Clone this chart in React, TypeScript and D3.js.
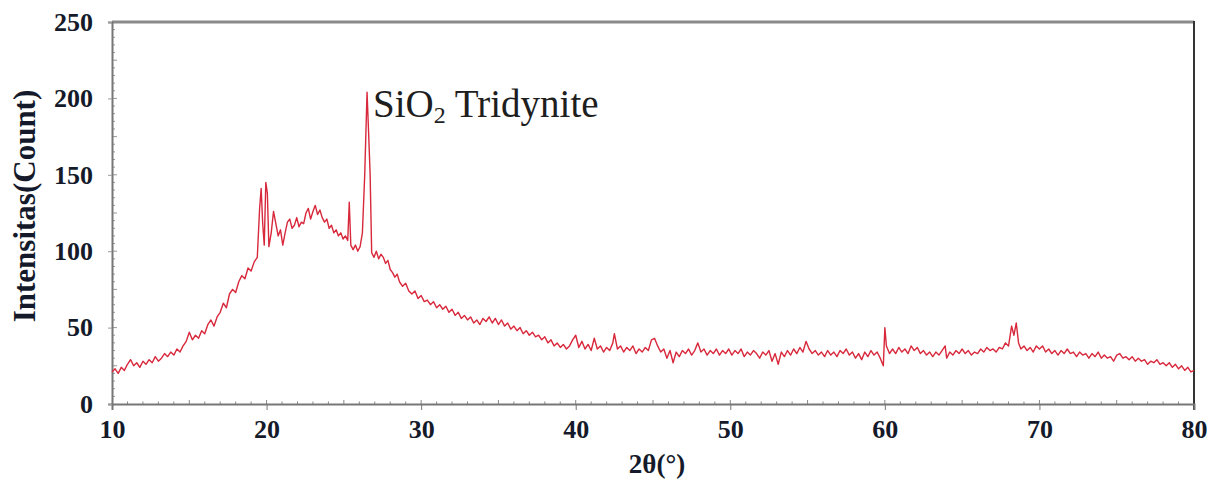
import React, { useRef, useEffect } from 'react';
import * as d3 from 'd3';

// XRD scan: [2theta, count]
const rampScan: [number, number][] = [
  [10.0, 21], [10.2, 23], [10.4, 20], [10.6, 24], [10.8, 22], [11.0, 26], [11.2, 29], [11.4, 25], [11.6, 27], [11.8, 24],
  [12.0, 28], [12.2, 26], [12.4, 29], [12.6, 27], [12.8, 31], [13.0, 28], [13.2, 30], [13.4, 33], [13.6, 31], [13.8, 34],
  [14.0, 32], [14.2, 36], [14.4, 34], [14.6, 38], [14.8, 41], [15.0, 47], [15.2, 42], [15.4, 45], [15.6, 43], [15.8, 48],
  [16.0, 46], [16.2, 52], [16.4, 55], [16.6, 51], [16.8, 57], [17.0, 60], [17.2, 66], [17.4, 63], [17.6, 72], [17.8, 75],
  [18.0, 73], [18.2, 80], [18.4, 84], [18.6, 82], [18.8, 89], [19.0, 87], [19.2, 93], [19.4, 96],
];

const humpScan: [number, number][] = [
  [19.55, 128], [19.65, 141], [19.75, 118], [19.85, 104], [19.95, 145], [20.05, 138], [20.15, 103], [20.3, 112],
  [20.45, 126], [20.6, 118], [20.75, 110], [20.9, 114], [21.05, 104], [21.2, 112], [21.35, 119], [21.5, 121],
  [21.65, 115], [21.8, 117], [21.95, 122], [22.1, 116], [22.25, 119], [22.4, 118], [22.55, 125], [22.7, 128],
  [22.85, 121], [23.0, 126], [23.15, 130], [23.3, 124], [23.45, 127], [23.6, 122], [23.75, 119], [23.9, 121],
  [24.05, 115], [24.2, 117], [24.35, 112], [24.5, 114], [24.65, 110], [24.8, 112], [24.95, 108], [25.1, 110],
  [25.25, 107], [25.35, 132], [25.45, 104], [25.6, 101], [25.75, 104], [25.9, 100], [26.05, 103], [26.2, 112],
  [26.35, 150], [26.5, 204], [26.6, 178], [26.7, 150], [26.8, 99], [26.95, 96], [27.1, 100], [27.25, 95],
  [27.4, 98], [27.55, 96], [27.7, 92], [27.85, 94], [28.0, 88], [28.15, 86], [28.3, 83], [28.45, 85], [28.6, 80],
];

const midScan: [number, number][] = [
  [28.8, 77], [29.0, 79], [29.2, 74], [29.4, 72], [29.6, 74], [29.8, 69], [30.0, 71], [30.2, 67], [30.4, 68], [30.6, 65],
  [30.8, 67], [31.0, 63], [31.2, 65], [31.4, 62], [31.6, 64], [31.8, 60], [32.0, 62], [32.2, 58], [32.4, 60], [32.6, 56],
  [32.8, 58], [33.0, 55], [33.2, 57], [33.4, 53], [33.6, 55], [33.8, 52], [34.0, 56], [34.2, 54], [34.4, 57], [34.6, 53],
  [34.8, 56], [35.0, 52], [35.2, 55], [35.4, 51], [35.6, 53], [35.8, 49], [36.0, 51], [36.2, 48], [36.4, 50], [36.6, 46],
  [36.8, 48], [37.0, 45], [37.2, 47], [37.4, 44], [37.6, 45], [37.8, 42], [38.0, 44], [38.2, 40], [38.4, 42], [38.6, 38],
  [38.8, 40], [39.0, 37], [39.2, 39], [39.4, 36], [39.6, 38], [39.8, 42], [40.0, 45], [40.2, 37],
];

const flatScan: [number, number][] = [
  [40.4, 41], [40.6, 36], [40.8, 39], [41.0, 35], [41.2, 43], [41.4, 36], [41.6, 38], [41.8, 34], [42.0, 37], [42.2, 35],
  [42.4, 40], [42.5, 46], [42.7, 36], [42.9, 38], [43.1, 34], [43.3, 37], [43.5, 35], [43.7, 38], [43.9, 33], [44.1, 36],
  [44.3, 34], [44.5, 37], [44.7, 35], [44.9, 42], [45.1, 43], [45.3, 38], [45.5, 34], [45.7, 36], [45.9, 30], [46.1, 35],
  [46.3, 27], [46.5, 34], [46.7, 31], [46.9, 35], [47.1, 33], [47.3, 36], [47.5, 32], [47.7, 35], [47.9, 40], [48.1, 34],
  [48.3, 36], [48.5, 32], [48.7, 35], [48.9, 33], [49.1, 36], [49.3, 32], [49.5, 35], [49.7, 33], [49.9, 36], [50.1, 32],
  [50.3, 35], [50.5, 33], [50.7, 36], [50.9, 31], [51.1, 34], [51.3, 32], [51.5, 35], [51.7, 33], [51.9, 30], [52.1, 34],
  [52.3, 32], [52.5, 35], [52.7, 28], [52.9, 33], [53.1, 26], [53.3, 34], [53.5, 31], [53.7, 35], [53.9, 32], [54.1, 36],
  [54.3, 33], [54.5, 37], [54.7, 34], [54.9, 41], [55.1, 36], [55.3, 33], [55.5, 35], [55.7, 32], [55.9, 34], [56.1, 31],
  [56.3, 35], [56.5, 32], [56.7, 34], [56.9, 31], [57.1, 35], [57.3, 33], [57.5, 36], [57.7, 32], [57.9, 34], [58.1, 30],
  [58.3, 33], [58.5, 29], [58.7, 34], [58.9, 31], [59.1, 35], [59.3, 32], [59.5, 34], [59.7, 30], [59.9, 25], [60.0, 50],
  [60.1, 38], [60.3, 33], [60.5, 36],
];

const tailScan: [number, number][] = [
  [60.7, 33], [60.9, 37], [61.1, 34], [61.3, 36], [61.5, 33], [61.7, 38], [61.9, 35], [62.1, 37], [62.3, 33], [62.5, 35],
  [62.7, 32], [62.9, 34], [63.1, 31], [63.3, 34], [63.5, 32], [63.7, 35], [63.9, 38], [64.0, 30], [64.2, 34], [64.4, 32],
  [64.6, 35], [64.8, 33], [65.0, 36], [65.2, 33], [65.4, 35], [65.6, 32], [65.8, 34], [66.0, 33], [66.2, 36], [66.4, 34],
  [66.6, 37], [66.8, 35], [67.0, 36], [67.2, 34], [67.4, 37], [67.6, 36], [67.8, 40], [68.0, 38], [68.2, 51], [68.35, 45],
  [68.5, 53], [68.65, 40], [68.8, 36], [69.0, 38], [69.2, 35], [69.4, 37], [69.6, 34], [69.8, 38], [70.0, 36], [70.2, 38],
  [70.4, 34], [70.6, 36], [70.8, 33], [71.0, 35], [71.2, 32], [71.4, 35], [71.6, 33], [71.8, 36], [72.0, 33], [72.2, 34],
  [72.4, 31], [72.6, 34], [72.8, 32], [73.0, 33], [73.2, 30], [73.4, 33], [73.6, 31], [73.8, 34], [74.0, 30], [74.2, 32],
  [74.4, 30], [74.6, 31], [74.8, 28], [75.0, 32], [75.2, 33], [75.4, 30], [75.6, 31], [75.8, 29], [76.0, 31], [76.2, 28],
  [76.4, 30], [76.6, 28], [76.8, 29], [77.0, 26], [77.2, 28], [77.4, 27], [77.6, 29], [77.8, 26], [78.0, 27], [78.2, 25],
  [78.4, 27], [78.6, 24], [78.8, 26], [79.0, 23], [79.2, 25], [79.4, 22], [79.6, 24], [79.8, 21], [80.0, 22],
];

const xTicks = [10, 20, 30, 40, 50, 60, 70, 80];
const yTicks = [0, 50, 100, 150, 200, 250];

function App() {
  const svgRef = useRef<SVGSVGElement>(null);

  useEffect(() => {
    const width = 1207;
    const height = 479;
    const margin = { top: 22, bottom: 75, left: 112, right: 13 };
    const font = '"Liberation Serif", "Times New Roman", serif';
    const scan = [...rampScan, ...humpScan, ...midScan, ...flatScan, ...tailScan];

    const svg = d3.select(svgRef.current)
      .attr('width', width)
      .attr('height', height)
      .attr('viewBox', [0, 0, width, height].join(' '));
    svg.selectAll('*').remove();

    const xScale = d3.scaleLinear().domain([10, 80]).range([margin.left, width - margin.right]);
    const yScale = d3.scaleLinear().domain([0, 250]).range([height - margin.bottom, margin.top]);
    const x0 = xScale(10), x1 = xScale(80), yb = yScale(0), yt = yScale(250);

    // minor ticks
    svg.append('g')
      .selectAll('line')
      .data(d3.range(11, 80, 1))
      .join('line')
      .attr('x1', d => xScale(d)).attr('x2', d => xScale(d))
      .attr('y1', yb).attr('y2', d => yb - (d % 5 === 0 ? 4 : 2.5))
      .attr('stroke', '#888').attr('stroke-width', 1);
    svg.append('g')
      .selectAll('line')
      .data(d3.range(5, 250, 5))
      .join('line')
      .attr('x1', x0).attr('x2', d => x0 + (d % 25 === 0 ? 5 : 3))
      .attr('y1', d => yScale(d)).attr('y2', d => yScale(d))
      .attr('stroke', '#999').attr('stroke-width', 1);

    // frame
    svg.append('line').attr('x1', x0).attr('x2', x1).attr('y1', yt).attr('y2', yt)
      .attr('stroke', '#8a8a8a').attr('stroke-width', 3);
    svg.append('line').attr('x1', x1).attr('x2', x1).attr('y1', yt - 1).attr('y2', yb + 6)
      .attr('stroke', '#333').attr('stroke-width', 2);

    const xAxis = svg.append('g')
      .attr('transform', `translate(0, ${yb})`)
      .call(d3.axisBottom(xScale).tickValues(xTicks).tickSize(6).tickPadding(10).tickFormat(d3.format('d')));
    xAxis.select('.domain').attr('stroke', '#777').attr('stroke-width', 2);
    xAxis.selectAll('.tick line').attr('stroke', '#777');
    xAxis.selectAll('text')
      .attr('font-family', font).attr('font-size', 26).attr('font-weight', 'bold').attr('fill', '#141a2a');

    const yAxis = svg.append('g')
      .attr('transform', `translate(${x0}, 0)`)
      .call(d3.axisLeft(yScale).tickValues(yTicks).tickSize(4).tickPadding(15).tickFormat(d3.format('d')));
    yAxis.select('.domain').attr('stroke', '#777').attr('stroke-width', 2);
    yAxis.selectAll('.tick line').attr('stroke', '#999');
    yAxis.selectAll('text')
      .attr('font-family', font).attr('font-size', 26).attr('font-weight', 'bold').attr('fill', '#141a2a');

    const scanLine = d3.line<[number, number]>()
      .x(d => xScale(d[0]))
      .y(d => yScale(d[1]))
      .curve(d3.curveLinear);

    svg.append('path')
      .datum(scan)
      .attr('d', scanLine)
      .attr('fill', 'none')
      .attr('stroke', '#d8283c')
      .attr('stroke-width', 1.4)
      .attr('stroke-linejoin', 'round');

    // axis titles
    svg.append('text')
      .attr('transform', `translate(24, 206) rotate(-90)`)
      .attr('text-anchor', 'middle')
      .attr('dy', '0.35em')
      .attr('font-family', font).attr('font-size', 31).attr('font-weight', 'bold').attr('fill', '#141a2a')
      .text('Intensitas(Count)');

    svg.append('text')
      .attr('x', 657).attr('y', 473)
      .attr('text-anchor', 'middle')
      .attr('font-family', font).attr('font-size', 27).attr('font-weight', 'bold').attr('fill', '#141a2a')
      .text('2θ(°)');

    // peak annotation
    const note = svg.append('text')
      .attr('x', xScale(26.5) + 6).attr('y', yScale(188))
      .attr('font-family', font).attr('font-size', 39).attr('fill', '#1e1e1e');
    note.append('tspan').text('SiO');
    note.append('tspan').attr('font-size', 24).attr('dy', 6).text('2');
    note.append('tspan').attr('dy', -6).text(' Tridynite');
  }, []);

  return (
    <div style={{ position: 'absolute', left: 0, top: 0 }}>
      <svg ref={svgRef} style={{ display: 'block' }}></svg>
    </div>
  );
}

export default App;
